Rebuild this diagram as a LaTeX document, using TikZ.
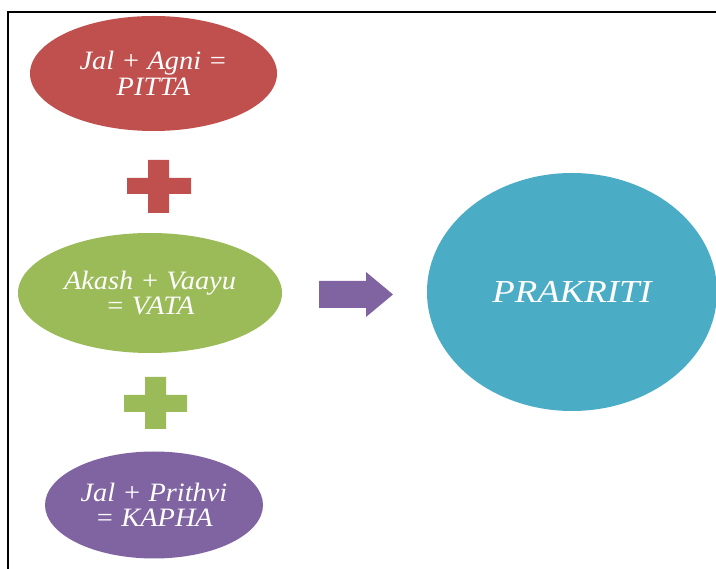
\documentclass[tikz,border=0pt]{standalone}
\usepackage{fontspec}
\setmainfont{Liberation Serif}
\newfontfamily\wideit[FakeStretch=1.07]{Liberation Serif Italic}
\newfontfamily\wideitb[FakeStretch=1.15]{Liberation Serif Italic}
\usetikzlibrary{shapes.geometric}
\definecolor{pittared}{HTML}{C0504D}
\definecolor{vatagreen}{HTML}{9BBB59}
\definecolor{kaphapurple}{HTML}{8064A2}
\definecolor{prakblue}{HTML}{4BACC6}
\tikzset{
  blob/.style={ellipse, inner sep=0pt, text=white, align=center,
    font=\wideit\fontsize{26.5}{25.5}\selectfont},
  border/.style={line width=2pt, black}
}
\begin{document}
\begin{tikzpicture}[x=1pt,y=-1pt]
\useasboundingbox (0,0) rectangle (716,569);
\fill[white] (0,0) rectangle (716,569);
\draw[border] (716,12) -- (8,12) -- (8,569);
% ellipses
\node[blob, fill=pittared, minimum width=247pt, minimum height=115pt] (pitta) at (153.5,73.5) {Jal + Agni =\\PITTA};
\node[blob, fill=vatagreen, minimum width=264pt, minimum height=120pt] (vata) at (150,293) {Akash + Vaayu\\= VATA};
\node[blob, fill=kaphapurple, minimum width=218pt, minimum height=107pt] (kapha) at (154,505) {Jal + Prithvi\\= KAPHA};
\node[blob, fill=prakblue, minimum width=290pt, minimum height=238pt, font=\wideitb\fontsize{32}{34}\selectfont] (prakriti) at (572,292) {PRAKRITI};
% plus signs
\fill[pittared] (127,178) -- (148,178) -- (148,160) -- (169,160) -- (169,178) -- (191,178) -- (191,194) -- (169,194) -- (169,213) -- (148,213) -- (148,194) -- (127,194) -- cycle;
\fill[vatagreen] (124,395) -- (145,395) -- (145,377) -- (166,377) -- (166,395) -- (187,395) -- (187,412) -- (166,412) -- (166,429) -- (145,429) -- (145,412) -- (124,412) -- cycle;
% arrow
\fill[kaphapurple] (319,281) -- (366,281) -- (366,272) -- (393,294.5) -- (366,317) -- (366,308) -- (319,308) -- cycle;
\end{tikzpicture}
\end{document}
